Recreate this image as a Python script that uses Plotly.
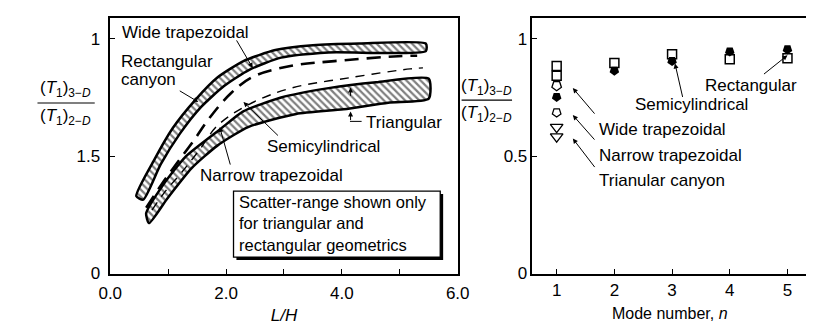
import plotly.graph_objects as go

W, H = 814, 324
FONT = "Liberation Sans"

# ---------------- data: left panel (L/H curves) ----------------
rect_hi_x = [0.45, 0.75, 1.08, 1.47, 1.85, 2.3, 2.85, 3.5, 4.3, 5.45]
rect_hi_y = [0.33, 0.48, 0.62, 0.74, 0.835, 0.905, 0.952, 0.973, 0.98, 0.98]
rect_lo_x = [0.57, 0.87, 1.2, 1.57, 1.97, 2.4, 2.95, 3.77, 5.45]
rect_lo_y = [0.315, 0.465, 0.595, 0.71, 0.80, 0.868, 0.92, 0.942, 0.948]

wide_x = [0.62, 0.9, 1.15, 1.44, 1.69, 2.07, 2.46, 3.11, 3.87, 4.97, 5.3]
wide_y = [0.28, 0.385, 0.47, 0.566, 0.655, 0.765, 0.838, 0.884, 0.905, 0.926, 0.928]

semi_x = [0.72, 0.95, 1.23, 1.55, 1.85, 2.39, 3.11, 4.15, 5.18, 5.4]
semi_y = [0.27, 0.35, 0.43, 0.53, 0.63, 0.72, 0.789, 0.835, 0.872, 0.876]

tri_hi_x = [0.62, 0.92, 1.31, 1.9, 2.29, 2.95, 3.77, 4.59, 5.5]
tri_hi_y = [0.256, 0.38, 0.50, 0.615, 0.69, 0.75, 0.79, 0.815, 0.83]
tri_lo_x = [0.67, 0.98, 1.41, 1.85, 2.39, 3.21, 4.03, 4.8, 5.5]
tri_lo_y = [0.215, 0.318, 0.45, 0.545, 0.625, 0.68, 0.70, 0.728, 0.745]

# ---------------- data: right panel (mode number) ----------------
rect_n = [1, 1, 2, 3, 4, 5]
rect_v = [0.884, 0.843, 0.897, 0.934, 0.913, 0.917]
semic_n = [1, 2, 3, 4, 5]
semic_v = [0.752, 0.864, 0.905, 0.946, 0.955]
widetrap_n = [1]
widetrap_v = [0.80]
narrowtrap_n = [1]
narrowtrap_v = [0.686]
tricanyon_n = [1, 1]
tricanyon_v = [0.624, 0.583]

left_xticks = [0, 1, 2, 3, 4, 5, 6]
left_xtext = ["0.0", "", "2.0", "", "4.0", "", "6.0"]
left_yticks = [0, 0.5, 1]
left_ytext = ["0", "1.5", "1"]
right_xticks = [1, 2, 3, 4, 5]
right_yticks = [0, 0.5, 1]
right_ytext = ["0", "0.5", "1"]


def px(x):
    return x / W


def py(y):
    return 1 - y / H


fig = go.Figure()

pattern = dict(shape="\\", size=5, solidity=0.45, fgcolor="black", bgcolor="white")

# upper hatched band (rectangular canyon scatter range)
fig.add_trace(go.Scatter(
    x=rect_hi_x + rect_lo_x[::-1] + rect_hi_x[:1],
    y=rect_hi_y + rect_lo_y[::-1] + rect_hi_y[:1],
    mode="lines", fill="toself", fillcolor="white", fillpattern=pattern,
    line=dict(color="black", width=2.5, shape="spline", smoothing=0.6),
    xaxis="x", yaxis="y", showlegend=False, hoverinfo="skip"))

# lower hatched band (triangular scatter range)
fig.add_trace(go.Scatter(
    x=tri_hi_x + tri_lo_x[::-1] + tri_hi_x[:1],
    y=tri_hi_y + tri_lo_y[::-1] + tri_hi_y[:1],
    mode="lines", fill="toself", fillcolor="white", fillpattern=pattern,
    line=dict(color="black", width=2.5, shape="spline", smoothing=0.6),
    xaxis="x", yaxis="y", showlegend=False, hoverinfo="skip"))

# wide trapezoidal (heavy dashes)
fig.add_trace(go.Scatter(
    x=wide_x, y=wide_y, mode="lines",
    line=dict(color="black", width=2.6, dash="14px,8px", shape="spline"),
    xaxis="x", yaxis="y", showlegend=False, hoverinfo="skip"))

# semicylindrical (thin dashes)
fig.add_trace(go.Scatter(
    x=semi_x, y=semi_y, mode="lines",
    line=dict(color="black", width=1.4, dash="9px,7px", shape="spline"),
    xaxis="x", yaxis="y", showlegend=False, hoverinfo="skip"))

# right panel markers
fig.add_trace(go.Scatter(x=rect_n, y=rect_v, mode="markers",
                         marker=dict(symbol="square-open", size=9, color="black", line=dict(width=1.5)),
                         xaxis="x2", yaxis="y2", showlegend=False))
fig.add_trace(go.Scatter(x=semic_n, y=semic_v, mode="markers",
                         marker=dict(symbol="pentagon", angle=180, size=10, color="black"),
                         xaxis="x2", yaxis="y2", showlegend=False))
fig.add_trace(go.Scatter(x=widetrap_n, y=widetrap_v, mode="markers",
                         marker=dict(symbol="pentagon-open", angle=180, size=10, color="black", line=dict(width=1.3)),
                         xaxis="x2", yaxis="y2", showlegend=False))
fig.add_trace(go.Scatter(x=narrowtrap_n, y=narrowtrap_v, mode="markers",
                         marker=dict(symbol="pentagon-open", angle=180, size=9, color="black", line=dict(width=1.3)),
                         xaxis="x2", yaxis="y2", showlegend=False))
fig.add_trace(go.Scatter(x=tricanyon_n, y=tricanyon_v, mode="markers",
                         marker=dict(symbol="triangle-down-open", size=11, color="black", line=dict(width=1.3)),
                         xaxis="x2", yaxis="y2", showlegend=False))

axis_common = dict(showline=True, mirror=True, linecolor="black", linewidth=1.5,
                   ticks="inside", ticklen=5, tickcolor="black", tickwidth=1,
                   showgrid=False, zeroline=False,
                   tickfont=dict(family=FONT, size=17, color="black"))

ydom = [py(274), py(10)]
fig.update_layout(
    width=W, height=H, margin=dict(l=0, r=0, t=0, b=0),
    paper_bgcolor="white", plot_bgcolor="white",
    xaxis=dict(domain=[px(93), px(451)], range=[0, 6], tickvals=left_xticks, ticktext=left_xtext,
               ticklabelstandoff=3,
               title=dict(text="<i>L/H</i>", font=dict(family=FONT, size=17), standoff=7), **axis_common),
    yaxis=dict(domain=ydom, range=[0, 1.09], tickvals=left_yticks, ticktext=left_ytext,
               ticklabelstandoff=5, **axis_common),
    xaxis2=dict(domain=[px(528), px(811)], range=[0.58, 5.34], tickvals=right_xticks, anchor="y2",
                title=dict(text="Mode number, <i>n</i>", font=dict(family=FONT, size=16), standoff=9),
                **axis_common),
    yaxis2=dict(domain=ydom, range=[0, 1.09], tickvals=right_yticks, ticktext=right_ytext, anchor="x2",
                **axis_common),
    font=dict(family=FONT, size=17, color="black"),
)

ann = []


def text(x, y, s, xanchor="left", size=17, ref=("paper", "paper"), align="left"):
    ann.append(dict(x=x, y=y, xref=ref[0], yref=ref[1], text=s, showarrow=False, align=align,
                    xanchor=xanchor, yanchor="middle", font=dict(family=FONT, size=size, color="black")))


def arrow(x, y, ax, ay, xr="x", yr="y", head=2, size=1.0, width=1.0):
    ann.append(dict(x=x, y=y, xref=xr, yref=yr, ax=ax, ay=ay, text="", showarrow=True,
                    arrowhead=head, arrowsize=size, arrowwidth=width, arrowcolor="black"))


# fraction y-axis titles
num = "(<i>T</i><sub>1</sub>)<sub>3−<i>D</i></sub>"
den = "(<i>T</i><sub>1</sub>)<sub>2−<i>D</i></sub>"
text(px(47), py(84), num, "center")
text(px(47), py(112), den, "center")
text(px(481), py(81), num, "center")
text(px(481), py(109), den, "center")

# left panel labels
text(px(103), py(25), "Wide trapezoidal")
text(px(102), py(55), "Rectangular")
text(px(102), py(74), "canyon")
text(px(313), py(143), "Semicylindrical", "center")
text(px(259), py(173), "Narrow trapezoidal", "center")
text(px(354), py(118), "Triangular")
text(px(224), py(222), "Scatter-range shown only<br>for triangular and<br>rectangular geometrics", size=16.5)

arrow(2.46, 0.876, -17, -29)
arrow(1.52, 0.731, -20, -12)
arrow(2.3, 0.731, 36, 35)
arrow(1.89, 0.624, 11, 39)
arrow(4.15, 0.69, 0, 10)
arrow(4.15, 0.793, 0, 10)

# right panel labels
text(px(753), py(80), "Rectangular", "center")
text(px(692), py(100), "Semicylindrical", "center")
text(px(595), py(125), "Wide trapezoidal")
text(px(595), py(152), "Narrow trapezoidal")
text(px(595), py(178), "Trianular canyon")

arrow(5.0, 0.93, -25, 20, "x2", "y2")
arrow(3.05, 0.895, 8, 35, "x2", "y2")
arrow(1.28, 0.79, 23, 27, "x2", "y2")
arrow(1.28, 0.675, 23, 26, "x2", "y2")
arrow(1.28, 0.575, 23, 30, "x2", "y2")

fig.update_layout(annotations=ann)

shapes = [
    # fraction bars
    dict(type="line", xref="paper", yref="paper", x0=px(18), x1=px(77), y0=py(98), y1=py(98),
         line=dict(color="black", width=1.2)),
    dict(type="line", xref="paper", yref="paper", x0=px(455), x1=px(507), y0=py(95), y1=py(95),
         line=dict(color="black", width=1.2)),
    # Triangular leader elbow
    dict(type="line", xref="paper", yref="paper", x0=px(340), x1=px(352), y0=py(117), y1=py(117),
         line=dict(color="black", width=1)),
    # note box shadow + box
    dict(type="rect", xref="paper", yref="paper", x0=px(223), x1=px(436), y0=py(192), y1=py(260),
         fillcolor="black", line=dict(width=0), layer="above"),
    dict(type="rect", xref="paper", yref="paper", x0=px(220), x1=px(433), y0=py(189), y1=py(257),
         fillcolor="white", line=dict(color="black", width=1.3), layer="above"),
]
fig.update_layout(shapes=shapes)

fig.write_html("out.html")
